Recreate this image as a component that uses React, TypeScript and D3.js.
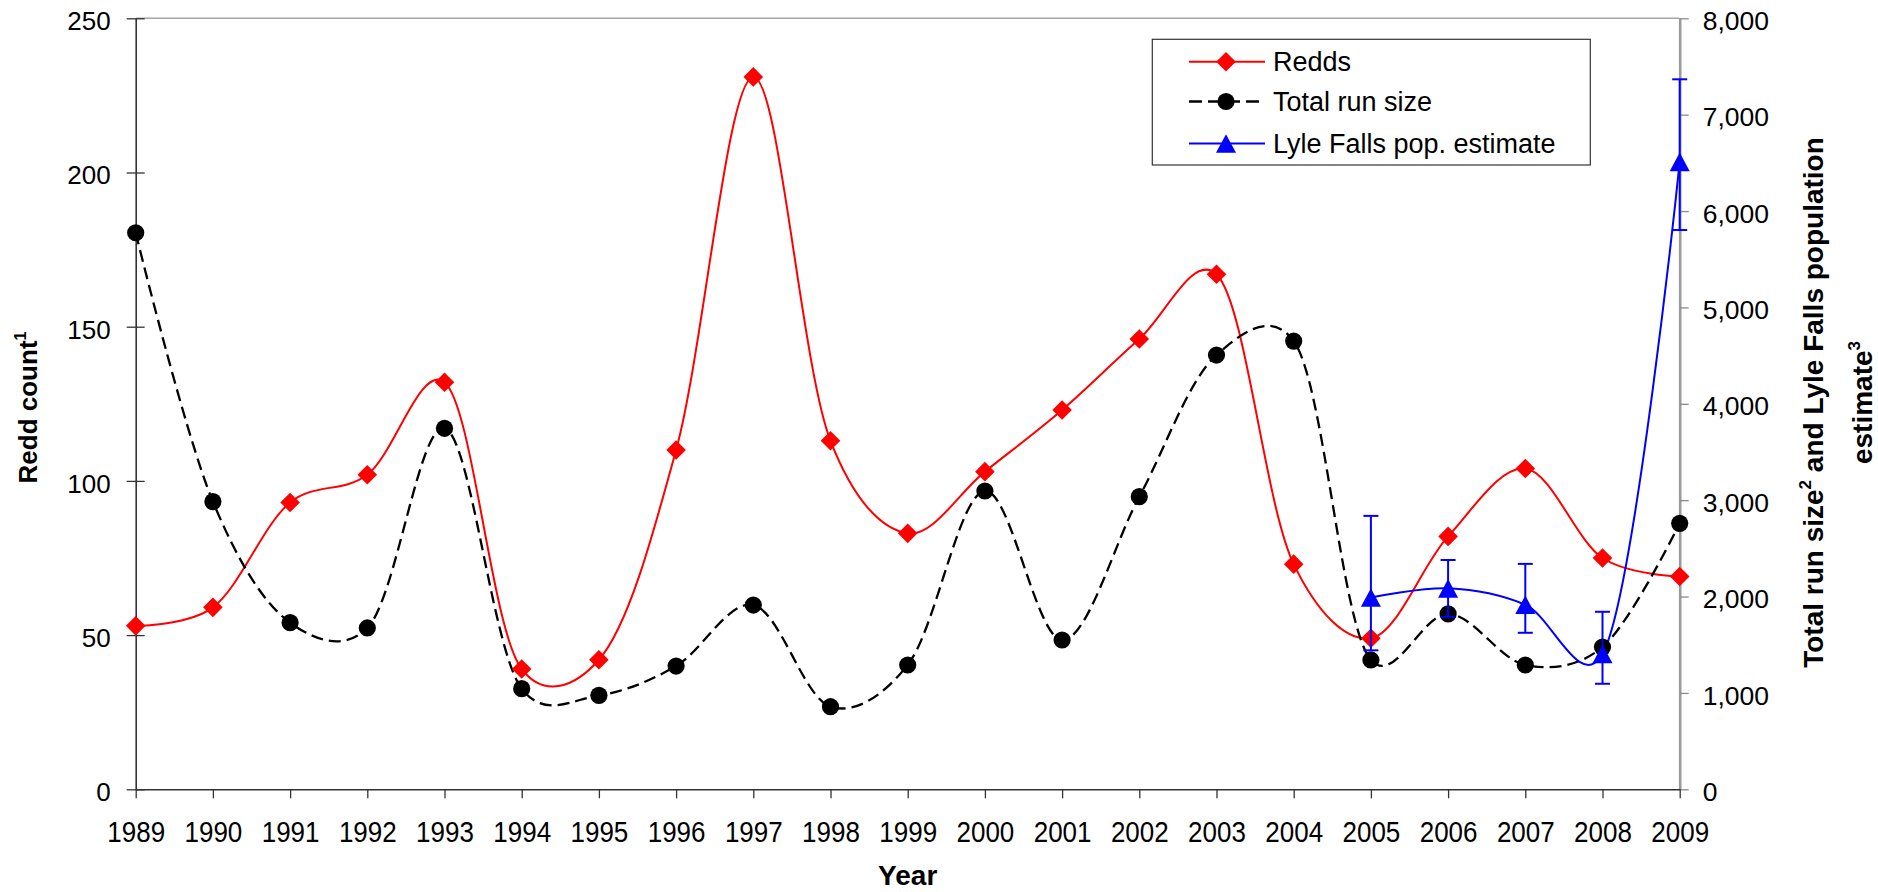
import React, { useEffect, useRef } from "react";
import * as d3 from "d3";

// ----- data
const years = [
  1989, 1990, 1991, 1992, 1993, 1994, 1995, 1996, 1997, 1998, 1999,
  2000, 2001, 2002, 2003, 2004, 2005, 2006, 2007, 2008, 2009
];
const redds = [53, 59, 93, 102, 132, 39, 42, 110, 231, 113, 83, 103, 123, 146, 167, 73, 49, 82, 104, 75, 69];
const totalRunSize = [
  5775, 2985, 1729, 1674, 3746, 1044, 975, 1279, 1912, 857, 1290,
  3095, 1549, 3036, 4506, 4651, 1342, 1820, 1290, 1476, 2760
];
const lyleYears = [2005, 2006, 2007, 2008, 2009];
const lyleEstimate = [1990, 2085, 1915, 1404, 6510];
const lyleLower = [1442, 1790, 1624, 1095, 5803];
const lyleUpper = [2837, 2379, 2339, 1842, 7367];

const leftTicks = [0, 50, 100, 150, 200, 250];
const rightTicks = [0, 1000, 2000, 3000, 4000, 5000, 6000, 7000, 8000];
const legendLabels = ["Redds", "Total run size", "Lyle Falls pop. estimate"];

const FONT = '"Liberation Sans", Arial, Helvetica, sans-serif';

const App = () => {
  const svgRef = useRef<SVGSVGElement>(null);

  useEffect(() => {
    const svg = d3.select(svgRef.current);
    svg.selectAll("*").remove();

    // plot box
    const plot = { left: 135.7, right: 1679.7, top: 18.3, bottom: 789.3 };

    const x = d3.scaleLinear().domain([1989, 2009]).range([plot.left, plot.right]);
    const yLeft = d3.scaleLinear().domain([0, 250]).range([plot.bottom, plot.top]);
    const yRight = d3.scaleLinear().domain([0, 8000]).range([plot.bottom, plot.top]);

    // top frame line
    svg
      .append("line")
      .attr("x1", plot.left)
      .attr("x2", plot.right)
      .attr("y1", plot.top)
      .attr("y2", plot.top)
      .attr("stroke", "#a6a6a6")
      .attr("stroke-width", 1.6);

    // ----- left axis (ticks cross the axis)
    const gLeft = svg
      .append("g")
      .attr("transform", `translate(${plot.left},0)`)
      .call(d3.axisLeft(yLeft).tickValues(leftTicks).tickSizeInner(9).tickSizeOuter(0).tickPadding(16));
    gLeft.attr("font-size", null).attr("font-family", null);
    gLeft.select(".domain").attr("stroke", "#333").attr("stroke-width", 1.6);
    gLeft.selectAll(".tick line").attr("x2", -9).attr("x1", 9).attr("stroke", "#333").attr("stroke-width", 1.3);
    gLeft
      .selectAll(".tick text")
      .attr("font-size", 26)
      .attr("font-family", FONT)
      .attr("fill", "#000")
      .attr("dy", "0.44em");

    // ----- right axis
    const gRight = svg
      .append("g")
      .attr("transform", `translate(${plot.right},0)`)
      .call(
        d3
          .axisRight(yRight)
          .tickValues(rightTicks)
          .tickFormat(d3.format(","))
          .tickSizeInner(9)
          .tickSizeOuter(0)
          .tickPadding(14)
      );
    gRight.attr("font-size", null).attr("font-family", null);
    gRight.select(".domain").attr("stroke", "#9a9a9a").attr("stroke-width", 2.6);
    gRight.selectAll(".tick line").attr("stroke", "#8a8a8a").attr("stroke-width", 1.3);
    gRight
      .selectAll(".tick text")
      .attr("font-size", 26.5)
      .attr("font-family", FONT)
      .attr("fill", "#000")
      .attr("dy", "0.42em");

    // ----- bottom axis
    const gBottom = svg
      .append("g")
      .attr("transform", `translate(0,${plot.bottom})`)
      .call(d3.axisBottom(x).tickValues(years).tickFormat(d3.format("d")).tickSizeInner(9).tickSizeOuter(0));
    gBottom.attr("font-size", null).attr("font-family", null);
    gBottom.select(".domain").attr("stroke", "#333").attr("stroke-width", 1.6);
    gBottom.selectAll(".tick line").attr("stroke", "#333").attr("stroke-width", 1.3);
    gBottom
      .selectAll(".tick text")
      .attr("font-size", 26)
      .attr("font-family", FONT)
      .attr("fill", "#000")
      .attr("dy", null)
      .attr("y", 45.8)
      .attr("transform", "scale(1,1.15)");

    // ----- axis titles
    svg
      .append("text")
      .attr("x", (plot.left + plot.right) / 2)
      .attr("y", 885)
      .attr("text-anchor", "middle")
      .attr("font-family", FONT)
      .attr("font-weight", "bold")
      .attr("font-size", 28)
      .text("Year");

    const leftTitle = svg
      .append("text")
      .attr("transform", "translate(36.5,407.5) rotate(-90)")
      .attr("text-anchor", "middle")
      .attr("font-family", FONT)
      .attr("font-weight", "bold")
      .attr("font-size", 26);
    leftTitle.append("tspan").text("Redd count");
    leftTitle.append("tspan").attr("font-size", 16).attr("dy", -11).text("1");

    const rightTitle1 = svg
      .append("text")
      .attr("transform", "translate(1822.5,402.5) rotate(-90)")
      .attr("text-anchor", "middle")
      .attr("font-family", FONT)
      .attr("font-weight", "bold")
      .attr("font-size", 28);
    rightTitle1.append("tspan").text("Total run size");
    rightTitle1.append("tspan").attr("font-size", 17).attr("dy", -12).text("2");
    rightTitle1.append("tspan").attr("dy", 12).text(" and Lyle Falls population");

    const rightTitle2 = svg
      .append("text")
      .attr("transform", "translate(1872,402.5) rotate(-90)")
      .attr("text-anchor", "middle")
      .attr("font-family", FONT)
      .attr("font-weight", "bold")
      .attr("font-size", 28);
    rightTitle2.append("tspan").text("estimate");
    rightTitle2.append("tspan").attr("font-size", 17).attr("dy", -12).text("3");

    // ----- marker shapes
    const diamond = (r: number) => `M0,${-r}L${r},0L0,${r}L${-r},0Z`;
    const triangle = (w: number, h: number) => `M0,${-h / 2}L${w / 2},${h / 2}L${-w / 2},${h / 2}Z`;

    // smoothed line like excel's
    const smooth = (yScale: d3.ScaleLinear<number, number>) =>
      d3
        .line<[number, number]>()
        .x(d => x(d[0]))
        .y(d => yScale(d[1]))
        .curve(d3.curveCatmullRom.alpha(0.2));

    // redds
    const reddPts = years.map((yr, i) => [yr, redds[i]] as [number, number]);
    svg
      .append("path")
      .attr("d", smooth(yLeft)(reddPts))
      .attr("fill", "none")
      .attr("stroke", "#ff0000")
      .attr("stroke-width", 2);

    // total run size
    const runPts = years.map((yr, i) => [yr, totalRunSize[i]] as [number, number]);
    svg
      .append("path")
      .attr("d", smooth(yRight)(runPts))
      .attr("fill", "none")
      .attr("stroke", "#000")
      .attr("stroke-width", 2.3)
      .attr("stroke-dasharray", "12,6");

    // lyle falls
    const lylePts = lyleYears.map((yr, i) => [yr, lyleEstimate[i]] as [number, number]);
    svg
      .append("path")
      .attr("d", smooth(yRight)(lylePts))
      .attr("fill", "none")
      .attr("stroke", "#0000ff")
      .attr("stroke-width", 2);

    // markers
    svg
      .append("g")
      .selectAll("path")
      .data(reddPts)
      .join("path")
      .attr("transform", d => `translate(${x(d[0])},${yLeft(d[1])})`)
      .attr("d", diamond(9.8))
      .attr("fill", "#ff0000");

    svg
      .append("g")
      .selectAll("circle")
      .data(runPts)
      .join("circle")
      .attr("cx", d => x(d[0]))
      .attr("cy", d => yRight(d[1]))
      .attr("r", 8.6)
      .attr("fill", "#000");

    // error bars
    const errG = svg
      .append("g")
      .selectAll("g")
      .data(lyleYears.map((yr, i) => ({ yr, lo: lyleLower[i], hi: lyleUpper[i] })))
      .join("g")
      .attr("stroke", "#0000ff")
      .attr("stroke-width", 2);
    errG
      .append("line")
      .attr("x1", d => x(d.yr))
      .attr("x2", d => x(d.yr))
      .attr("y1", d => yRight(d.lo))
      .attr("y2", d => yRight(d.hi));
    errG
      .append("line")
      .attr("x1", d => x(d.yr) - 7.5)
      .attr("x2", d => x(d.yr) + 7.5)
      .attr("y1", d => yRight(d.lo))
      .attr("y2", d => yRight(d.lo));
    errG
      .append("line")
      .attr("x1", d => x(d.yr) - 7.5)
      .attr("x2", d => x(d.yr) + 7.5)
      .attr("y1", d => yRight(d.hi))
      .attr("y2", d => yRight(d.hi));

    svg
      .append("g")
      .selectAll("path")
      .data(lylePts)
      .join("path")
      .attr("transform", d => `translate(${x(d[0])},${yRight(d[1])})`)
      .attr("d", triangle(20, 18.6))
      .attr("fill", "#0000ff");

    // ----- legend
    const legend = svg.append("g");
    legend
      .append("rect")
      .attr("x", 1152.3)
      .attr("y", 39.3)
      .attr("width", 438)
      .attr("height", 125.7)
      .attr("fill", "#fff")
      .attr("stroke", "#333")
      .attr("stroke-width", 1.2);

    const rowY = [61.7, 101.5, 143.5];
    const rows = legend
      .selectAll("g.row")
      .data(legendLabels)
      .join("g")
      .attr("class", "row")
      .attr("transform", (d, i) => `translate(0,${rowY[i]})`);

    rows
      .append("line")
      .attr("x1", 1189)
      .attr("x2", 1265)
      .attr("stroke", (d, i) => ["#ff0000", "#000", "#0000ff"][i])
      .attr("stroke-width", (d, i) => (i === 1 ? 2.3 : 2))
      .attr("stroke-dasharray", (d, i) => (i === 1 ? "13,6" : null));

    rows
      .append("path")
      .attr("transform", "translate(1226,0)")
      .attr("d", (d, i) =>
        i === 0
          ? diamond(9.8)
          : i === 1
          ? d3.symbol(d3.symbolCircle, Math.PI * 8.6 * 8.6)()
          : triangle(20, 18.6)
      )
      .attr("fill", (d, i) => ["#ff0000", "#000", "#0000ff"][i]);

    rows
      .append("text")
      .attr("x", 1273)
      .attr("y", 9.5)
      .attr("font-family", FONT)
      .attr("font-size", 27)
      .text(d => d);
  }, []);

  return (
    <svg
      ref={svgRef}
      width={1878}
      height={892}
      style={{ position: "absolute", left: 0, top: 0, background: "#fff" }}
    />
  );
};

export default App;
